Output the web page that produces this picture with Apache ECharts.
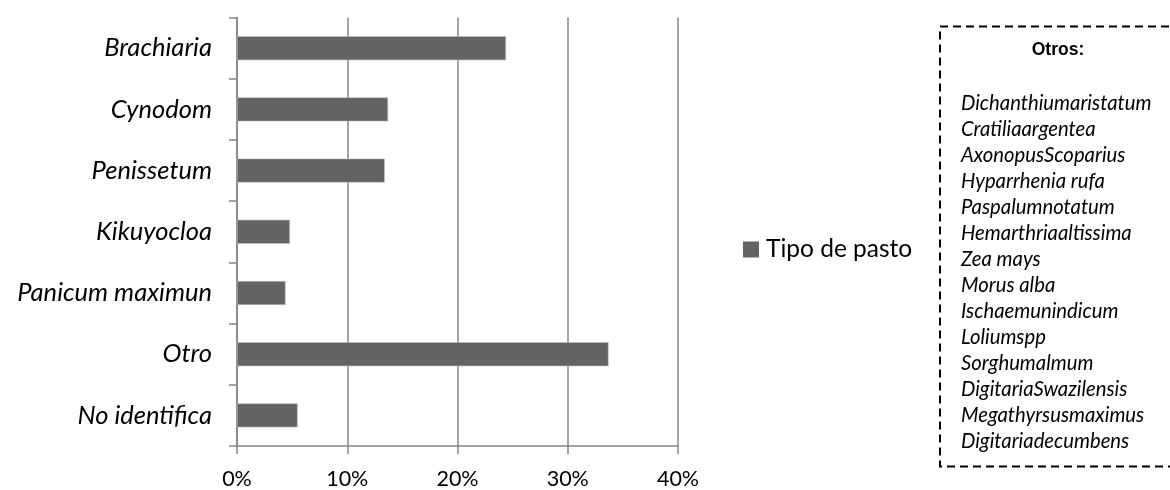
<!DOCTYPE html>
<html>
<head>
<meta charset="utf-8">
<script src="https://cdn.jsdelivr.net/npm/echarts@6/dist/echarts.min.js"></script>
<style>
  html, body { margin: 0; padding: 0; background: #fff; }
  #chart { width: 1170px; height: 490px; }
</style>
</head>
<body>
<div id="chart"></div>
<script>
// Grass types and their share of responses
const categories = ['Brachiaria', 'Cynodom', 'Penissetum', 'Kikuyocloa', 'Panicum maximun', 'Otro', 'No identifica'];
const shares = [0.244, 0.137, 0.134, 0.048, 0.044, 0.337, 0.055];
const seriesName = 'Tipo de pasto';
const xTicks = [0, 0.1, 0.2, 0.3, 0.4];

// Species grouped under "Otro"
const othersTitle = 'Otros:';
const othersList = [
  'Dichanthiumaristatum', 'Cratiliaargentea', 'AxonopusScoparius', 'Hyparrhenia rufa',
  'Paspalumnotatum', 'Hemarthriaaltissima', 'Zea mays', 'Morus alba',
  'Ischaemunindicum', 'Loliumspp', 'Sorghumalmum', 'DigitariaSwazilensis',
  'Megathyrsusmaximus', 'Digitariadecumbens'
];

const FONT = 'Lato, "Open Sans", sans-serif';
const chart = echarts.init(document.getElementById('chart'), null, { renderer: 'canvas' });

const listGraphics = othersList.map((name, i) => ({
  type: 'text',
  x: 961,
  y: 103 + i * 26.05,
  style: { text: name, font: 'italic 20.3px ' + FONT, fill: '#000', verticalAlign: 'middle' }
}));

chart.setOption({
  animation: false,
  grid: { left: 237, right: 492, top: 17.6, bottom: 43.3 },
  legend: {
    data: [seriesName],
    left: 738,
    top: 232,
    itemWidth: 16,
    itemHeight: 16,
    itemGap: 5,
    icon: 'rect',
    itemStyle: { borderWidth: 0 },
    textStyle: { fontFamily: FONT, fontSize: 24.5, color: '#000', padding: [0, 0, 0, 2] }
  },
  xAxis: {
    type: 'value',
    min: xTicks[0],
    max: xTicks[xTicks.length - 1],
    interval: 0.1,
    axisLine: { show: true, lineStyle: { color: '#868686', width: 1.5 } },
    axisTick: { show: true, length: 8, lineStyle: { color: '#868686', width: 1.5 } },
    splitLine: { show: true, lineStyle: { color: '#868686', width: 1.5 } },
    axisLabel: {
      margin: 22,
      fontFamily: FONT,
      fontSize: 21.5,
      color: '#000',
      formatter: v => Math.round(v * 100) + '%'
    }
  },
  yAxis: {
    type: 'category',
    data: categories,
    inverse: true,
    axisLine: { show: true, lineStyle: { color: '#868686', width: 1.5 } },
    axisTick: { show: true, length: 8, lineStyle: { color: '#868686', width: 1.5 } },
    axisLabel: {
      margin: 25,
      fontFamily: FONT,
      fontStyle: 'italic',
      fontSize: 25.5,
      color: '#000'
    }
  },
  series: [{
    name: seriesName,
    type: 'bar',
    data: shares,
    barWidth: 24,
    itemStyle: { color: '#636363', borderColor: '#bdbdbd', borderWidth: 0.6 }
  }],
  graphic: [
    {
      // dashed frame; it runs past the right edge of the canvas
      type: 'polyline',
      shape: { points: [[1260, 26.5], [940, 26.5], [940, 466.5], [1260, 466.5]] },
      style: { fill: null, stroke: '#000', lineWidth: 2, lineDash: [8, 5] }
    },
    {
      type: 'text',
      x: 1058,
      y: 50,
      style: {
        text: othersTitle,
        font: 'bold 17.5px "Liberation Sans", Arial, sans-serif',
        fill: '#000',
        align: 'center',
        verticalAlign: 'middle'
      }
    }
  ].concat(listGraphics)
});
</script>
</body>
</html>
